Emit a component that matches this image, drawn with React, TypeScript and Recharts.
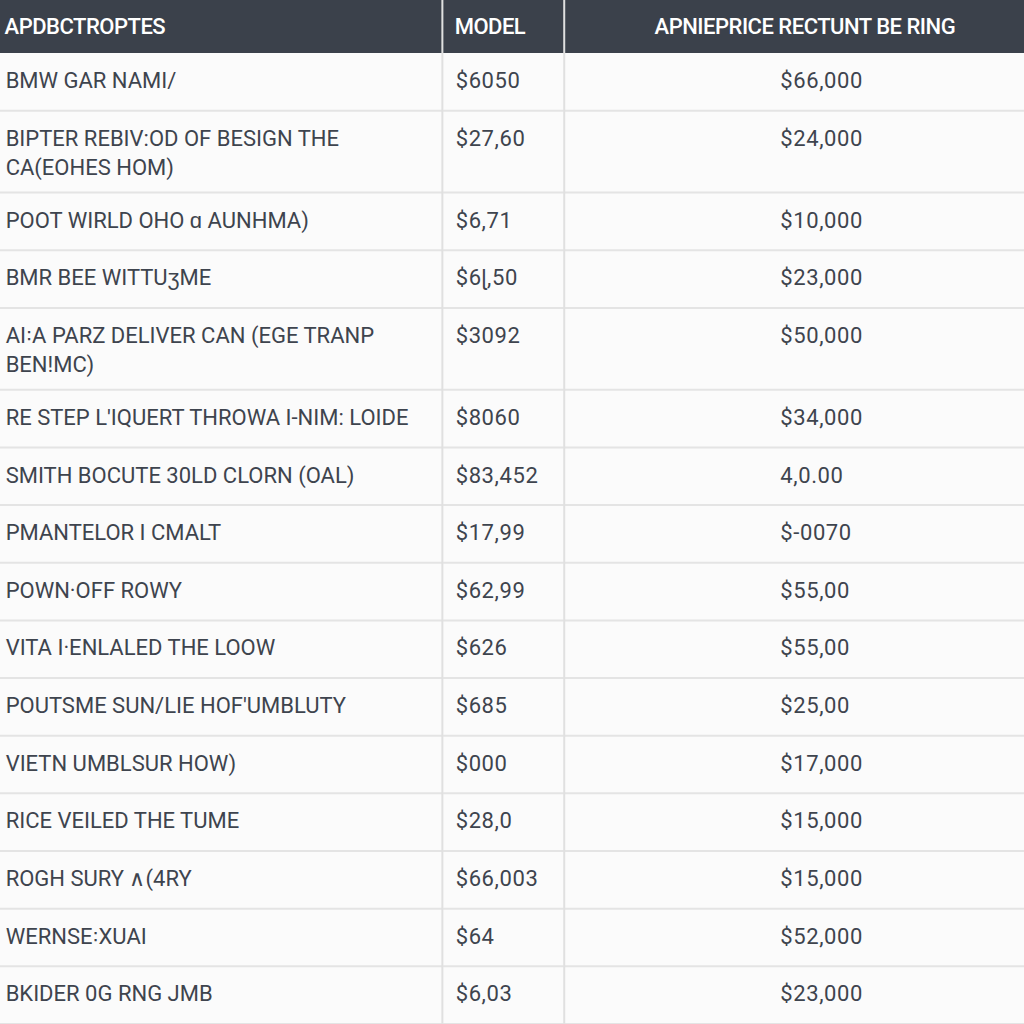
import React from 'react';
import { ScatterChart, Scatter, XAxis, YAxis, ReferenceLine, ReferenceArea } from 'recharts';

const headers = ['APDBCTROPTES', 'MODEL', 'APNIEPRICE RECTUNT BE RING'];

const names = [
  'BMW GAR NAMI/',
  'BIPTER REBIV:OD OF BESIGN THE\nCA(EOHES HOM)',
  'POOT WIRLD OHO ɑ AUNHMA)',
  'BMR BEE WITTUʒME',
  'AI꞉A PARZ DELIVER CAN (EGE TRANP\nBEN!MC)',
  "RE STEP L'IQUERT THROWA I-NIM: LOIDE",
  'SMITH BOCUTE 30LD CLORN (OAL)',
  'PMANTELOR I CMALT',
  'POWN·OFF ROWY',
  'VITA I·ENLALED THE LOOW',
  "POUTSME SUN/LIE HOF'UMBLUTY",
  'VIETN UMBLSUR HOW)',
  'RICE VEILED THE TUME',
  'ROGH SURY ∧(4RY',
  'WERNSE꞉XUAI',
  'BKIDER 0G RNG JMB',
];

const models = [
  '$6050', '$27,60', '$6,71', '$6ɭ,50', '$3092', '$8060', '$83,452', '$17,99',
  '$62,99', '$626', '$685', '$000', '$28,0', '$66,003', '$64', '$6,03',
];

const prices = [
  '$66,000', '$24,000', '$10,000', '$23,000', '$50,000', '$34,000', '4,0.00', '$-0070',
  '$55,00', '$55,00', '$25,00', '$17,000', '$15,000', '$15,000', '$52,000', '$23,000',
];

// layout (x in % of width, y in row units)
const HEADER_H = 0.92;
const SINGLE_H = 1;
const EXTRA_LINE_H = 0.42;
const TEXT_OFFSET = 0.47;
const COL_LINES = [43.2, 55.1];
const COL_TEXT_X = [0.55, 44.5, 76.2];
const HEADER_TEXT_X = [0.45, 44.4, 78.6];

const rows = (() => {
  let y = HEADER_H;
  return names.map((n, i) => {
    const lines = n.split('\n').length;
    const h = SINGLE_H + (lines - 1) * EXTRA_LINE_H;
    const r = { start: y, end: y + h, name: n, model: models[i], price: prices[i] };
    y += h;
    return r;
  });
})();
const TOTAL = rows[rows.length - 1].end;

const nameData = rows.map(r => ({ x: COL_TEXT_X[0], y: r.start + TEXT_OFFSET, text: r.name, spacing: 0 }));
const modelData = rows.map(r => ({ x: COL_TEXT_X[1], y: r.start + TEXT_OFFSET, text: r.model, spacing: 0.6 }));
const priceData = rows.map(r => ({ x: COL_TEXT_X[2], y: r.start + TEXT_OFFSET, text: r.price, spacing: 0.6 }));
const headerData = headers.map((h, i) => ({
  x: HEADER_TEXT_X[i],
  y: HEADER_H / 2,
  text: h,
  anchor: i === 2 ? 'middle' : 'start',
}));

const BodyText = (props: any) => {
  const { cx, cy, payload } = props;
  const lines = String(payload.text).split('\n');
  return (
    <text
      x={cx}
      y={cy}
      fill="#3e444e"
      fontSize={22}
      letterSpacing={payload.spacing}
      fontFamily="Roboto, sans-serif"
      dominantBaseline="central"
    >
      {lines.map((l, i) => (
        <tspan key={i} x={cx} dy={i === 0 ? 0 : 29}>{l}</tspan>
      ))}
    </text>
  );
};

const HeaderText = (props: any) => {
  const { cx, cy, payload } = props;
  return (
    <text
      x={cx}
      y={cy}
      fill="#ffffff"
      fontSize={22}
      fontWeight={500}
      letterSpacing={-0.5}
      fontFamily="Roboto, sans-serif"
      textAnchor={payload.anchor}
      dominantBaseline="central"
    >
      {payload.text}
    </text>
  );
};

const App: React.FC = () => {
  return (
    <div style={{ width: 1024, height: 1024, background: '#fbfbfb' }}>
      <style>{'body{margin:0}'}</style>
      <ScatterChart width={1024} height={1024} margin={{ top: 0, right: 0, bottom: 0, left: 0 }}>
        <XAxis type="number" dataKey="x" domain={[0, 100]} hide />
        <YAxis type="number" dataKey="y" domain={[0, TOTAL]} reversed hide />
        <ReferenceArea x1={0} x2={100} y1={0} y2={HEADER_H} fill="#3b414b" fillOpacity={1} stroke="none" />
        {rows.map((r, i) => (
          <ReferenceLine key={i} y={r.end} stroke="#e4e4e4" strokeWidth={2} />
        ))}
        {COL_LINES.map((x, i) => (
          <ReferenceLine key={'c' + i} x={x} stroke="#e0e0e0" strokeWidth={2} />
        ))}
        <Scatter data={headerData} shape={HeaderText} isAnimationActive={false} />
        <Scatter data={nameData} shape={BodyText} isAnimationActive={false} />
        <Scatter data={modelData} shape={BodyText} isAnimationActive={false} />
        <Scatter data={priceData} shape={BodyText} isAnimationActive={false} />
      </ScatterChart>
    </div>
  );
};

export default App;
